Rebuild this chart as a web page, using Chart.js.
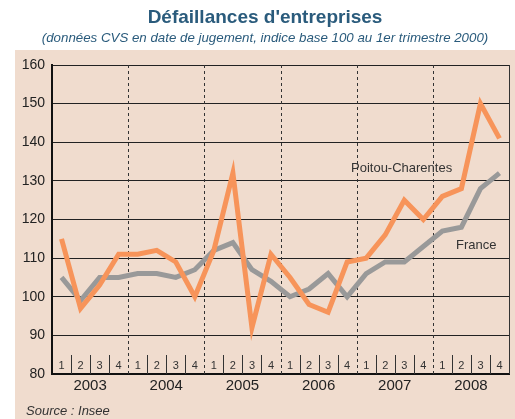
<!DOCTYPE html>
<html>
<head>
<meta charset="utf-8">
<script src="https://cdn.jsdelivr.net/npm/chart.js@4.4.0/dist/chart.umd.min.js"></script>
<style>
  html, body { margin: 0; padding: 0; background: #ffffff; }
  #wrap { width: 515px; height: 419px; position: relative; }
</style>
</head>
<body>
<div id="wrap"><canvas id="defaillances" width="515" height="419"></canvas></div>
<script>
// données
var years = ['2003', '2004', '2005', '2006', '2007', '2008'];
var quarters = ['1', '2', '3', '4'];
var poitou = [115, 97, 103, 111, 111, 112, 109, 100, 112, 132, 92, 111,
              105, 98, 96, 109, 110, 116, 125, 120, 126, 128, 150, 141];
var france = [105, 99, 105, 105, 106, 106, 105, 107, 112, 114, 107, 104,
              100, 102, 106, 100, 106, 109, 109, 113, 117, 118, 128, 132];
var yTicks = [80, 90, 100, 110, 120, 130, 140, 150, 160];

var labels = [];
years.forEach(function (y) {
  quarters.forEach(function (q) { labels.push(y + ' T' + q); });
});

var BG = '#f0dcce';
var BLUE = '#2a5b7c';
var FONT = 'Arial, "Liberation Sans", sans-serif';

var decor = {
  id: 'decor',
  beforeDraw: function (chart) {
    var ctx = chart.ctx;
    ctx.save();
    ctx.fillStyle = '#ffffff';
    ctx.fillRect(0, 0, chart.width, chart.height);
    ctx.fillStyle = BG;
    ctx.fillRect(15, 50, chart.width - 15, chart.height - 50);
    ctx.restore();
  },
  beforeDatasetsDraw: function (chart) {
    var ctx = chart.ctx, x = chart.scales.x, a = chart.chartArea;
    var step = x.getPixelForValue(1) - x.getPixelForValue(0);
    ctx.save();
    // séparateurs d'années en pointillés
    ctx.strokeStyle = '#333';
    ctx.lineWidth = 1;
    ctx.setLineDash([3, 3]);
    for (var i = 1; i < years.length; i++) {
      var px = Math.round(x.getPixelForValue(i * 4) - step / 2) + 0.5;
      ctx.beginPath(); ctx.moveTo(px, a.top); ctx.lineTo(px, a.bottom); ctx.stroke();
    }
    ctx.setLineDash([]);
    // petits traits des trimestres
    for (var j = 0; j < labels.length; j++) {
      if (j % 4 === 0) continue;
      var tx = Math.round(x.getPixelForValue(j) - step / 2) + 0.5;
      ctx.beginPath(); ctx.moveTo(tx, a.bottom - 19); ctx.lineTo(tx, a.bottom); ctx.stroke();
    }
    // numéros des trimestres
    ctx.fillStyle = '#333';
    ctx.font = '11px ' + FONT;
    ctx.textAlign = 'center';
    ctx.textBaseline = 'middle';
    for (var k = 0; k < labels.length; k++) {
      ctx.fillText(quarters[k % 4], x.getPixelForValue(k), a.bottom - 8);
    }
    ctx.restore();
  },
  afterDraw: function (chart) {
    var ctx = chart.ctx, x = chart.scales.x, a = chart.chartArea;
    var step = x.getPixelForValue(1) - x.getPixelForValue(0);
    ctx.save();
    ctx.textAlign = 'center';
    ctx.textBaseline = 'middle';
    ctx.fillStyle = '#222';
    ctx.font = '15px ' + FONT;
    years.forEach(function (y, i) {
      var cx = x.getPixelForValue(i * 4 + 1) + step / 2;
      ctx.fillText(y, cx, a.bottom + 12);
    });
    ctx.fillStyle = BLUE;
    ctx.font = 'bold 19px ' + FONT;
    ctx.fillText("Défaillances d'entreprises", 265, 18);
    ctx.font = 'italic 13.3px ' + FONT;
    ctx.fillText('(données CVS en date de jugement, indice base 100 au 1er trimestre 2000)', 265, 38);
    ctx.textAlign = 'left';
    ctx.fillStyle = '#333';
    ctx.font = '13px ' + FONT;
    ctx.fillText('Poitou-Charentes', 351, 168);
    ctx.fillText('France', 456, 245);
    ctx.font = 'italic 13px ' + FONT;
    ctx.fillText('Source : Insee', 26, 411);
    // bordure droite
    ctx.strokeStyle = '#333';
    ctx.lineWidth = 1;
    ctx.beginPath(); ctx.moveTo(a.right + 0.5, a.top); ctx.lineTo(a.right + 0.5, a.bottom); ctx.stroke();
    ctx.restore();
  }
};

var ctx = document.getElementById('defaillances').getContext('2d');
var chart = new Chart(ctx, {
  type: 'line',
  data: {
    labels: labels,
    datasets: [
      { label: 'Poitou-Charentes', data: poitou, borderColor: '#f7945a', borderWidth: 5,
        pointRadius: 0, tension: 0, order: 0 },
      { label: 'France', data: france, borderColor: '#999999', borderWidth: 5,
        pointRadius: 0, tension: 0, order: 1 }
    ]
  },
  options: {
    responsive: false,
    animation: false,
    layout: { padding: { left: 0, top: 65, right: 6, bottom: 45 } },
    plugins: { legend: { display: false }, title: { display: false }, tooltip: { enabled: false } },
    scales: {
      x: {
        offset: true,
        ticks: { display: false },
        grid: { display: false, drawTicks: false },
        border: { display: true, color: '#111', width: 2 },
        afterFit: function (s) { s.height = 0; }
      },
      y: {
        min: 80, max: 160,
        afterBuildTicks: function (s) { s.ticks = yTicks.map(function (v) { return { value: v }; }); },
        ticks: { color: '#222', font: { family: FONT, size: 14 }, padding: 7 },
        grid: { color: '#222', lineWidth: 1, drawTicks: false },
        border: { display: true, color: '#111', width: 2 },
        afterFit: function (s) { s.width = 52; }
      }
    }
  },
  plugins: [decor]
});
</script>
</body>
</html>
